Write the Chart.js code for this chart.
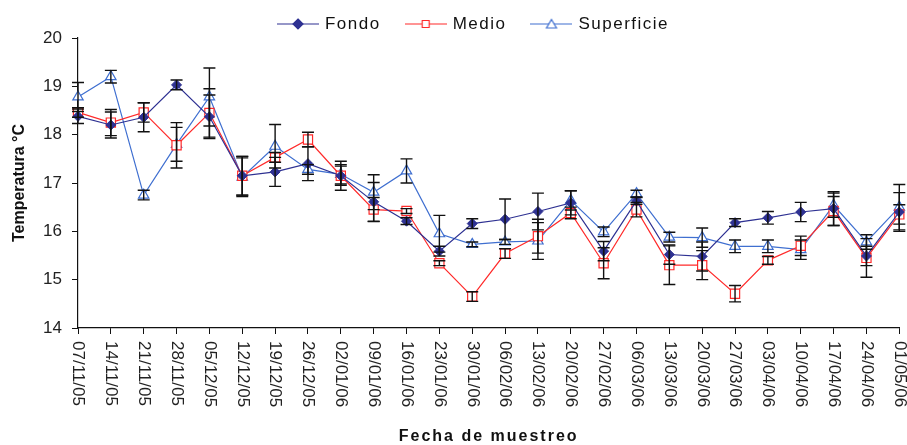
<!DOCTYPE html>
<html>
<head>
<meta charset="utf-8">
<script src="https://cdn.jsdelivr.net/npm/chart.js@4/dist/chart.umd.min.js"></script>
<style>
  body { margin: 0; background: #fff; }
  #wrap { width: 907px; height: 445px; }
</style>
</head>
<body>
<div id="wrap"><canvas id="chart" width="907" height="445"></canvas></div>
<script>
// Sampling dates
const fechas = ['07/11/05', '14/11/05', '21/11/05', '28/11/05', '05/12/05', '12/12/05', '19/12/05', '26/12/05',
    '02/01/06', '09/01/06', '16/01/06', '23/01/06', '30/01/06', '06/02/06', '13/02/06', '20/02/06', '27/02/06',
    '06/03/06', '13/03/06', '20/03/06', '27/03/06', '03/04/06', '10/04/06', '17/04/06', '24/04/06', '01/05/06'];

// Temperature means per depth
const fondo = [18.38, 18.2, 18.36, 19.03, 18.37, 17.15, 17.23, 17.4, 17.15, 16.61, 16.21, 15.59, 16.16,
    16.25, 16.41, 16.59, 15.59, 16.63, 15.52, 15.48, 16.18, 16.28, 16.4, 16.47, 15.49, 16.4];
const medio = [18.46, 18.25, 18.46, 17.78, 18.45, 17.15, 17.53, 17.9, 17.15, 16.45, 16.42, 15.34, 14.65,
    15.54, 15.9, 16.38, 15.34, 16.45, 15.3, 15.3, 14.71, 15.4, 15.7, 16.42, 15.45, 16.35];
const superficie = [18.78, 19.2, 16.75, 17.8, 18.78, 17.12, 17.76, 17.28, 17.18, 16.81, 17.25, 15.95, 15.73,
    15.78, 15.8, 16.64, 15.99, 16.78, 15.88, 15.87, 15.69, 15.69, 15.62, 16.54, 15.78, 16.5];

// Error bar half-widths
const fondoErr = [0.15, 0.27, 0.3, 0.1, 0.45, 0.4, 0.3, 0.35, 0.3, 0.4, 0.07, 0.1, 0.1,
    0.42, 0.38, 0.25, 0.2, 0.07, 0.2, 0.3, 0.08, 0.13, 0.2, 0.35, 0.2, 0.4];
const medioErr = [0.1, 0.27, 0.2, 0.47, 0.5, 0.4, 0.1, 0.15, 0.2, 0.25, 0.05, 0.05, 0.1,
    0.1, 0.35, 0.12, 0.32, 0.15, 0.4, 0.3, 0.17, 0.08, 0.2, 0.3, 0.4, 0.2];
const superficieErr = [0.3, 0.13, 0.1, 0.35, 0.6, 0.4, 0.45, 0.1, 0.2, 0.36, 0.25, 0.38, 0.05,
    0.05, 0.38, 0.2, 0.1, 0.07, 0.1, 0.2, 0.13, 0.13, 0.2, 0.25, 0.15, 0.47];

const yTicks = [14, 15, 16, 17, 18, 19, 20];

const colFondo = '#2e3192';
const colMedio = '#ff2a2a';
const colSup = '#3f6fd0';

// small legend swatch: line with the marker in the middle
function legendSwatch(color, style) {
    const c = document.createElement('canvas');
    c.width = 42;
    c.height = 14;
    const g = c.getContext('2d');
    g.strokeStyle = color;
    g.lineWidth = 1.2;
    g.beginPath();
    g.moveTo(0, 7);
    g.lineTo(42, 7);
    g.stroke();
    g.fillStyle = style === 'diamond' ? color : '#fff';
    g.beginPath();
    if (style === 'diamond') {
        g.moveTo(21, 2); g.lineTo(26, 7); g.lineTo(21, 12); g.lineTo(16, 7);
    } else if (style === 'square') {
        g.rect(17.5, 3.5, 7, 7);
    } else {
        g.moveTo(21, 2.5); g.lineTo(26, 11); g.lineTo(16, 11);
    }
    g.closePath();
    g.fill();
    g.stroke();
    return c;
}

const swatches = [legendSwatch(colFondo, 'diamond'), legendSwatch(colMedio, 'square'), legendSwatch(colSup, 'triangle')];

const errorBars = {
    id: 'errorBars',
    afterDatasetsDraw(chart) {
        const ctx = chart.ctx;
        const y = chart.scales.y;
        const errs = [fondoErr, medioErr, superficieErr];
        ctx.save();
        ctx.strokeStyle = '#111';
        ctx.lineWidth = 1.4;
        chart.data.datasets.forEach((ds, i) => {
            const meta = chart.getDatasetMeta(i);
            meta.data.forEach((pt, j) => {
                const top = y.getPixelForValue(ds.data[j] + errs[i][j]);
                const bot = y.getPixelForValue(ds.data[j] - errs[i][j]);
                ctx.beginPath();
                ctx.moveTo(pt.x, top); ctx.lineTo(pt.x, bot);
                ctx.moveTo(pt.x - 6, top); ctx.lineTo(pt.x + 6, top);
                ctx.moveTo(pt.x - 6, bot); ctx.lineTo(pt.x + 6, bot);
                ctx.stroke();
            });
        });
        ctx.restore();
    }
};

// legend row at the top: line + marker, then the name
const topLegend = {
    id: 'topLegend',
    afterDraw(chart) {
        const ctx = chart.ctx;
        ctx.save();
        ctx.font = '17px "Liberation Sans", Arial, sans-serif';
        ctx.letterSpacing = '1.5px';
        ctx.fillStyle = '#111';
        ctx.textBaseline = 'middle';
        ctx.textAlign = 'left';
        const names = chart.data.datasets.map(ds => ds.label);
        const widths = names.map(n => ctx.measureText(n).width);
        const gap = 24;
        const total = widths.reduce((s, w) => s + 48 + w, 0) + gap * (names.length - 1);
        let x = 473 - total / 2;
        names.forEach((n, i) => {
            ctx.drawImage(swatches[i], x, 24 - 7);
            ctx.fillText(n, x + 48, 24);
            x += 48 + widths[i] + gap;
        });
        ctx.restore();
    }
};

// vertical date labels reading top to bottom, plus the x title
const xLabels = {
    id: 'xLabels',
    afterDraw(chart) {
        const ctx = chart.ctx;
        const x = chart.scales.x;
        ctx.save();
        ctx.fillStyle = '#222';
        ctx.font = '17px "Liberation Sans", Arial, sans-serif';
        ctx.textAlign = 'left';
        ctx.textBaseline = 'middle';
        fechas.forEach((f, i) => {
            ctx.save();
            ctx.translate(x.getPixelForTick(i), x.top + 13);
            ctx.rotate(Math.PI / 2);
            ctx.fillText(f, 0, 0);
            ctx.restore();
        });
        ctx.font = 'bold 16px "Liberation Sans", Arial, sans-serif';
        ctx.letterSpacing = '2px';
        ctx.textAlign = 'center';
        ctx.fillStyle = '#111';
        ctx.fillText('Fecha de muestreo', (chart.chartArea.left + chart.chartArea.right) / 2, 437);
        ctx.restore();
    }
};

new Chart(document.getElementById('chart'), {
    type: 'line',
    data: {
        labels: fechas,
        datasets: [
            { label: 'Fondo', data: fondo, borderColor: colFondo, backgroundColor: colFondo, borderWidth: 1.2,
              pointStyle: 'rectRot', pointRadius: 5, pointBorderWidth: 1 },
            { label: 'Medio', data: medio, borderColor: colMedio, backgroundColor: '#fff', borderWidth: 1.2,
              pointStyle: 'rect', pointRadius: 6.5, pointBorderWidth: 1.2 },
            { label: 'Superficie', data: superficie, borderColor: colSup, backgroundColor: '#fff', borderWidth: 1.2,
              pointStyle: 'triangle', pointRadius: 6, pointBorderWidth: 1.2 }
        ]
    },
    options: {
        responsive: false,
        animation: false,
        layout: { padding: { left: 0, right: 2, top: 38, bottom: 0 } },
        plugins: {
            tooltip: { enabled: false },
            legend: { display: false }
        },
        scales: {
            x: {
                offset: false,
                grid: { display: true, drawOnChartArea: false, drawTicks: true, tickLength: 6, color: '#111' },
                border: { display: true, color: '#111', width: 1.2 },
                ticks: { display: false, autoSkip: false },
                afterFit(scale) { scale.height = 117; }
            },
            y: {
                min: 14,
                max: 20,
                afterBuildTicks(scale) { scale.ticks = yTicks.map(v => ({ value: v })); },
                grid: { display: true, drawOnChartArea: false, drawTicks: true, tickLength: 6, color: '#111' },
                border: { display: true, color: '#111', width: 1.2 },
                ticks: {
                    padding: 10,
                    color: '#222',
                    font: { size: 17, family: '"Liberation Sans", Arial, sans-serif' }
                },
                title: {
                    display: true,
                    text: 'Temperatura °C',
                    color: '#111',
                    padding: { top: 10, bottom: 0 },
                    font: { size: 16, weight: 'bold', family: '"Liberation Sans", Arial, sans-serif' }
                },
                afterFit(scale) { scale.width = 78; }
            }
        }
    },
    plugins: [errorBars, xLabels, topLegend]
});
</script>
</body>
</html>
